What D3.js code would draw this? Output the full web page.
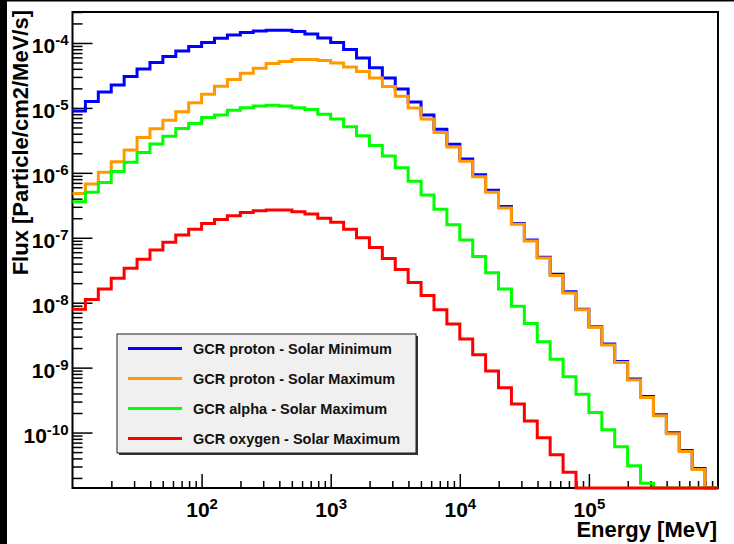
<!DOCTYPE html>
<html>
<head>
<meta charset="utf-8">
<script src="https://cdn.jsdelivr.net/npm/d3@7"></script>
<style>
  body { margin: 0; background: #fff; }
  svg { display: block; font-family: "Liberation Sans", Arial, sans-serif; font-weight: bold; }
</style>
</head>
<body>
<div id="chart"></div>
<script>
// Ancho y alto del lienzo
var width = 734;
var height = 544;

// Bordes de los bins de energía (10 bins por década, de 10 MeV a 1e6 MeV)
var energyEdges = d3.range(51).map(function (k) { return Math.pow(10, 1 + k / 10); });

// Flujos (un valor por bin, 0 = por debajo del eje)
var protonSolarMin = [
  9.0e-6, 1.26e-5, 1.76e-5, 2.26e-5, 3.04e-5, 3.98e-5, 4.99e-5, 6.17e-5, 7.53e-5, 8.79e-5,
  1.02e-4, 1.18e-4, 1.33e-4, 1.45e-4, 1.53e-4, 1.57e-4, 1.57e-4, 1.50e-4, 1.37e-4, 1.19e-4,
  1.02e-4, 7.94e-5, 5.89e-5, 4.17e-5, 2.88e-5, 1.95e-5, 1.23e-5, 7.76e-6, 4.68e-6, 2.75e-6,
  1.64e-6, 9.33e-7, 5.37e-7, 3.02e-7, 1.66e-7, 9.23e-8, 5.01e-8, 2.75e-8, 1.48e-8, 7.94e-9,
  4.27e-9, 2.32e-9, 1.24e-9, 6.68e-10, 3.59e-10, 1.88e-10, 9.9e-11, 5.31e-11, 2.79e-11, 0
];
var protonSolarMax = [
  4.82e-7, 6.76e-7, 1.02e-6, 1.48e-6, 2.24e-6, 3.51e-6, 4.79e-6, 6.46e-6, 8.71e-6, 1.20e-5,
  1.62e-5, 2.16e-5, 2.74e-5, 3.42e-5, 4.07e-5, 4.82e-5, 5.18e-5, 5.56e-5, 5.56e-5, 5.37e-5,
  4.90e-5, 4.27e-5, 3.63e-5, 2.88e-5, 2.14e-5, 1.51e-5, 1.0e-5, 6.76e-6, 4.17e-6, 2.51e-6,
  1.51e-6, 8.71e-7, 5.01e-7, 2.88e-7, 1.62e-7, 8.91e-8, 4.90e-8, 2.63e-8, 1.41e-8, 7.76e-9,
  4.17e-9, 2.24e-9, 1.20e-9, 6.46e-10, 3.47e-10, 1.82e-10, 9.55e-11, 5.13e-11, 2.69e-11, 0
];
var alphaSolarMax = [
  3.58e-7, 5.01e-7, 7.08e-7, 1.05e-6, 1.46e-6, 2.06e-6, 2.77e-6, 3.67e-6, 4.82e-6, 5.75e-6,
  7.11e-6, 7.80e-6, 9.23e-6, 1.01e-5, 1.07e-5, 1.10e-5, 1.07e-5, 1.01e-5, 9.44e-6, 8.00e-6,
  6.76e-6, 5.13e-6, 3.72e-6, 2.63e-6, 1.82e-6, 1.20e-6, 7.41e-7, 4.57e-7, 2.75e-7, 1.58e-7,
  9.23e-8, 5.13e-8, 2.88e-8, 1.62e-8, 8.81e-9, 4.79e-9, 2.51e-9, 1.35e-9, 7.24e-10, 3.89e-10,
  2.04e-10, 1.10e-10, 6.03e-11, 3.09e-11, 1.66e-11, 0, 0, 0, 0, 0
];
var oxygenSolarMax = [
  7.94e-9, 1.12e-8, 1.62e-8, 2.37e-8, 3.39e-8, 4.68e-8, 6.46e-8, 8.51e-8, 1.10e-7, 1.35e-7,
  1.66e-7, 1.91e-7, 2.19e-7, 2.45e-7, 2.60e-7, 2.67e-7, 2.67e-7, 2.51e-7, 2.32e-7, 2.0e-7,
  1.74e-7, 1.35e-7, 1.0e-7, 7.08e-8, 4.79e-8, 3.24e-8, 2.04e-8, 1.29e-8, 7.76e-9, 4.68e-9,
  2.75e-9, 1.58e-9, 8.91e-10, 4.90e-10, 2.75e-10, 1.51e-10, 8.32e-11, 4.57e-11, 2.45e-11, 0,
  0, 0, 0, 0, 0, 0, 0, 0, 0, 0
];

var seriesNames = [
  "GCR proton - Solar Minimum",
  "GCR proton - Solar Maximum",
  "GCR alpha - Solar Maximum",
  "GCR oxygen - Solar Maximum"
];
var seriesColors = ["#0000ff", "#ff9900", "#00ff00", "#ff0000"];
var seriesValues = [protonSolarMin, protonSolarMax, alphaSolarMax, oxygenSolarMax];

// Etiquetas de los ejes
var xTickValues = [1e2, 1e3, 1e4, 1e5];
var yTickValues = [1e-10, 1e-9, 1e-8, 1e-7, 1e-6, 1e-5, 1e-4];
var xTitle = "Energy [MeV]";
var yTitle = "Flux [Particle/cm2/MeV/s]";

// Área del gráfico
var plotLeft = 72.5, plotRight = 718, plotTop = 12, plotBottom = 488;

var svg = d3.select("#chart")
    .append("svg")
    .attr("width", width)
    .attr("height", height);

svg.append("rect").attr("width", width).attr("height", height).attr("fill", "#fff");
// bordes negros de la captura
svg.append("rect").attr("x", 0).attr("y", 0).attr("width", width).attr("height", 1.5).attr("fill", "#000");
svg.append("rect").attr("x", 0).attr("y", 0).attr("width", 7).attr("height", height).attr("fill", "#000");

// Escalas logarítmicas
var xScale = d3.scaleLog().domain([10, 1e6]).range([plotLeft, plotRight]);
var yScale = d3.scaleLog().domain([1.4e-11, 3e-4]).range([plotBottom, plotTop]).clamp(true);

function isDecade(d) {
  var l = Math.log10(d);
  return Math.abs(l - Math.round(l)) < 1e-6;
}

function powerLabel(sel, supSize) {
  sel.each(function (d) {
    var t = d3.select(this);
    var e = Math.round(Math.log10(d));
    t.text(null);
    t.append("tspan").text("10");
    t.append("tspan").attr("dy", "-0.55em").attr("font-size", supSize).text(e);
  });
}

// Eje Y: marcas menores y mayores hacia dentro
var yMinor = yScale.ticks().filter(function (d) { return !isDecade(d); });
svg.append("g")
    .attr("transform", "translate(" + plotLeft + ",0)")
    .call(d3.axisLeft(yScale).tickValues(yMinor).tickSizeInner(-10).tickSizeOuter(0).tickFormat(""))
    .call(function (g) { g.select(".domain").remove(); g.selectAll("line").attr("stroke", "#000").attr("stroke-width", 1.5); });

svg.append("g")
    .attr("transform", "translate(" + plotLeft + ",0)")
    .call(d3.axisLeft(yScale).tickValues(yTickValues).tickSizeInner(-20).tickSizeOuter(0).tickPadding(4))
    .call(function (g) {
      g.select(".domain").remove();
      g.selectAll("line").attr("stroke", "#000").attr("stroke-width", 1.5);
      g.selectAll("text")
        .attr("font-size", 21).attr("font-family", null).attr("fill", "#000")
        .attr("dy", null).attr("y", 10)
        .call(powerLabel, 15);
    });

// Eje X
var xMinor = xScale.ticks().filter(function (d) { return !isDecade(d); });
svg.append("g")
    .attr("transform", "translate(0," + plotBottom + ")")
    .call(d3.axisBottom(xScale).tickValues(xMinor).tickSizeInner(-7).tickSizeOuter(0).tickFormat(""))
    .call(function (g) { g.select(".domain").remove(); g.selectAll("line").attr("stroke", "#000").attr("stroke-width", 1.5); });

svg.append("g")
    .attr("transform", "translate(0," + plotBottom + ")")
    .call(d3.axisBottom(xScale).tickValues(xTickValues).tickSizeInner(-14).tickSizeOuter(0))
    .call(function (g) {
      g.select(".domain").remove();
      g.selectAll("line").attr("stroke", "#000").attr("stroke-width", 1.5);
      g.selectAll("text")
        .attr("font-size", 21).attr("font-family", null).attr("fill", "#000")
        .attr("dy", null).attr("y", 29)
        .call(powerLabel, 15);
    });

// Marco
svg.append("rect")
    .attr("x", plotLeft).attr("y", plotTop)
    .attr("width", plotRight - plotLeft).attr("height", plotBottom - plotTop)
    .attr("fill", "none").attr("stroke", "#000").attr("stroke-width", 2);

// Histogramas en escalera
var line = d3.line()
    .x(function (d) { return xScale(d.e); })
    .y(function (d) { return d.v > 0 ? yScale(d.v) : plotBottom; })
    .curve(d3.curveStepAfter);

seriesValues.forEach(function (values, s) {
  var pts = values.map(function (v, i) { return { e: energyEdges[i], v: v }; });
  pts.push({ e: energyEdges[values.length], v: values[values.length - 1] });
  svg.append("path")
      .datum(pts)
      .attr("d", line)
      .attr("fill", "none")
      .attr("stroke", seriesColors[s])
      .attr("stroke-width", 3);
});

// Títulos de los ejes
svg.append("text")
    .attr("x", plotRight - 1).attr("y", 537)
    .attr("text-anchor", "end")
    .attr("font-size", 22)
    .text(xTitle);

svg.append("text")
    .attr("transform", "translate(28," + (plotTop - 2) + ") rotate(-90)")
    .attr("text-anchor", "end")
    .attr("font-size", 22)
    .text(yTitle);

// Leyenda
var lx = 117, ly = 334, lw = 299, lh = 119;
svg.append("rect")
    .attr("x", lx + 2).attr("y", ly + 2).attr("width", lw).attr("height", lh)
    .attr("fill", "#333");
svg.append("rect")
    .attr("x", lx).attr("y", ly).attr("width", lw).attr("height", lh)
    .attr("fill", "#f0f0f0").attr("stroke", "#222").attr("stroke-width", 1);

var legend = svg.selectAll(".legend-item")
    .data(seriesNames)
    .enter()
    .append("g")
    .attr("class", "legend-item")
    .attr("transform", function (d, i) { return "translate(0," + (348.5 + i * 30) + ")"; });

legend.append("line")
    .attr("x1", 128).attr("x2", 182)
    .attr("stroke", function (d, i) { return seriesColors[i]; })
    .attr("stroke-width", 3);

legend.append("text")
    .attr("x", 193).attr("y", 5)
    .attr("font-size", 14.5)
    .attr("fill", "#111")
    .text(function (d) { return d; });
</script>
</body>
</html>
